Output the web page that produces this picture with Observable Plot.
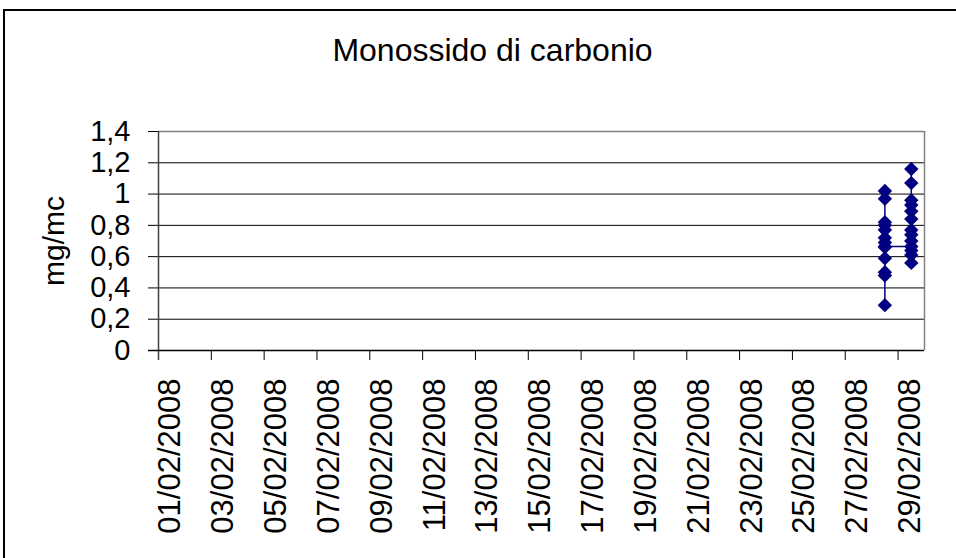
<!DOCTYPE html>
<html>
<head>
<meta charset="utf-8">
<script src="https://cdn.jsdelivr.net/npm/d3@7"></script>
<script src="https://cdn.jsdelivr.net/npm/@observablehq/plot@0.6"></script>
<style>
  html, body { margin: 0; padding: 0; background: white; overflow: hidden; }
  #wrap { position: relative; width: 956px; height: 558px; }
  #frame { position: absolute; left: 3px; top: 9px; width: 2000px; height: 2000px; border: 2px solid black; pointer-events: none; }
</style>
</head>
<body>
<div id="wrap"><div id="chart"></div><div id="frame"></div></div>
<script>
const title = "Monossido di carbonio";
const yLabel = "mg/mc";
const yTicks = [0, 0.2, 0.4, 0.6, 0.8, 1, 1.2, 1.4];
const yTickLabels = ["0", "0,2", "0,4", "0,6", "0,8", "1", "1,2", "1,4"];
const xTickLabels = ["01/02/2008","03/02/2008","05/02/2008","07/02/2008","09/02/2008","11/02/2008","13/02/2008","15/02/2008","17/02/2008","19/02/2008","21/02/2008","23/02/2008","25/02/2008","27/02/2008","29/02/2008"];
const xDomain = ["01/02/2008", "01/03/2008"];
const day28 = "28/02/2008";
const day28Values = [0.29, 0.48, 0.50, 0.59, 0.66, 0.69, 0.72, 0.77, 0.80, 0.82, 0.97, 1.02, 0.665];
const day29 = "29/02/2008";
const day29Values = [0.665, 0.70, 0.64, 0.61, 0.56, 0.74, 0.77, 0.84, 0.89, 0.93, 0.96, 1.07, 1.16];

const parse = d3.utcParse("%d/%m/%Y");
const midDay = s => new Date(+parse(s) + 12 * 3600 * 1000);
const data = [
  ...day28Values.map(v => ({date: midDay(day28), value: v})),
  ...day29Values.map(v => ({date: midDay(day29), value: v}))
];
const tickDates = xTickLabels.map(parse);
const font = "'Liberation Sans', Arial, sans-serif";
const navy = "#000080";

const chart = Plot.plot({
  width: 956,
  height: 558,
  marginLeft: 158,
  marginRight: 32,
  marginTop: 131,
  marginBottom: 208,
  style: {fontFamily: font, background: "white", color: "black"},
  x: {type: "utc", domain: xDomain.map(parse)},
  y: {domain: [0, 1.4]},
  marks: [
    Plot.ruleY(yTicks.filter(v => v > 0 && v < 1.4), {stroke: "black", strokeWidth: 1}),
    Plot.ruleY([1.4], {stroke: "#808080", strokeWidth: 1.5}),
    Plot.ruleX([parse(xDomain[1])], {stroke: "#808080", strokeWidth: 1.5}),
    Plot.axisY({ticks: yTicks, tickFormat: (d) => yTickLabels[yTicks.indexOf(d)], tickSize: 10, tickPadding: 18, fontSize: 29, label: null, stroke: "black", strokeWidth: 1, strokeOpacity: 1}),
    Plot.axisX({ticks: tickDates, tickSize: 10, tickFormat: () => "", label: null, stroke: "black", strokeWidth: 1, strokeOpacity: 1}),
    Plot.text(xTickLabels, {x: s => parse(s), text: s => s, frameAnchor: "bottom", rotate: -90, textAnchor: "end", lineAnchor: "middle", dy: 28, dx: 12, fontSize: 31, fill: "black"}),
    Plot.ruleX([parse(xDomain[0])], {stroke: "#404040", strokeWidth: 1.5, insetBottom: -10}),
    Plot.ruleY([0], {stroke: "black", strokeWidth: 1.5, insetLeft: -10}),
    Plot.line(data, {x: "date", y: "value", stroke: navy, strokeWidth: 1.5}),
    Plot.dot(data, {x: "date", y: "value", symbol: "diamond2", r: 6.5, fill: navy, stroke: "none"}),
    Plot.text([title], {frameAnchor: "top", dx: -49, dy: -81, lineAnchor: "middle", fontSize: 32, fill: "black"}),
    Plot.text([yLabel], {frameAnchor: "left", rotate: -90, dx: -104, dy: 0, textAnchor: "middle", lineAnchor: "middle", fontSize: 30, fill: "black"})
  ]
});
document.getElementById("chart").appendChild(chart);
</script>
</body>
</html>
